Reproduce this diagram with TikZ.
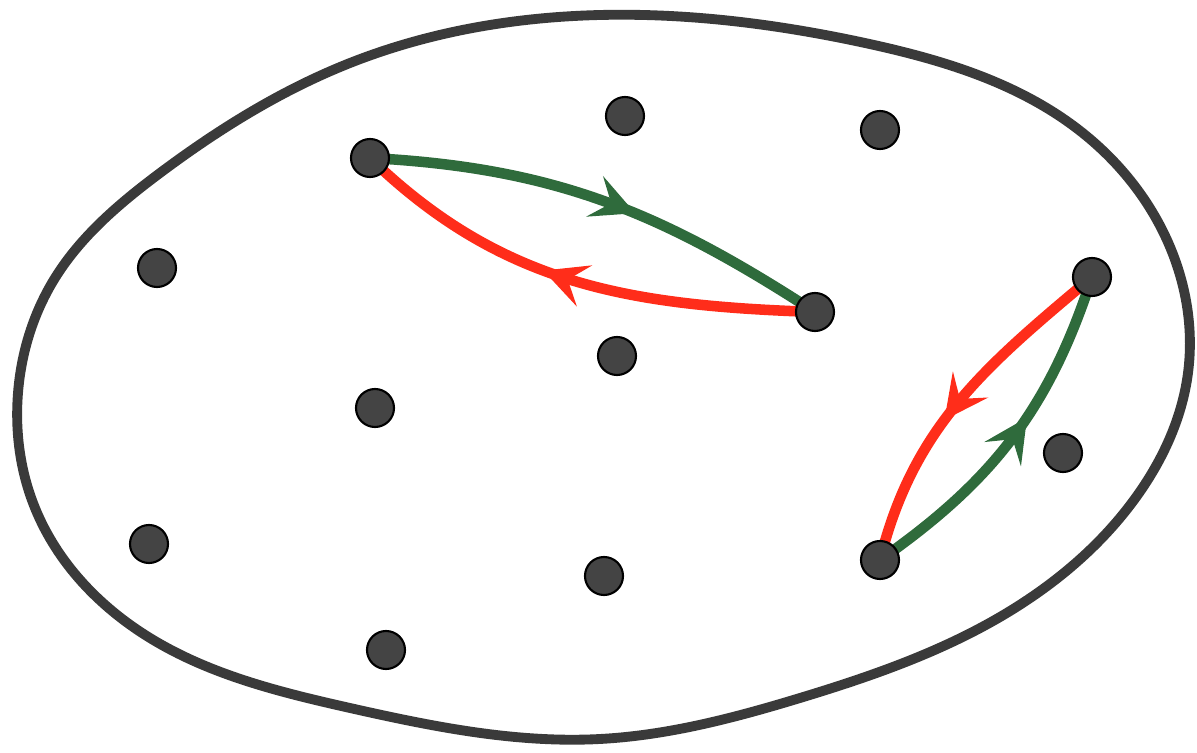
\documentclass[tikz,border=0pt]{standalone}
\usepackage{xcolor}
\usepackage{tikz}
\usetikzlibrary{arrows.meta,decorations.markings,backgrounds,hobby}

\definecolor{rimgray}{HTML}{3A3A3A}
\definecolor{dotgray}{HTML}{444444}
\definecolor{pathgreen}{HTML}{2F6B3C}
\definecolor{pathred}{HTML}{FF2D1A}

\tikzset{
    dot/.style={circle, fill=dotgray, draw=black, line width=0.6pt, minimum size=0.38cm, inner sep=0pt},
    midarrow/.style={postaction={decorate}, decoration={markings,
        mark=at position #1 with {\arrow[line width=0.4pt]{Stealth[length=4.4mm,width=4.4mm,inset=1.8mm]}}}},
    gopath/.style={pathgreen, line width=3pt, midarrow=0.57},
    backpath/.style={pathred, line width=3pt, midarrow=0.57}
}

\begin{document}
\begin{tikzpicture}
    \useasboundingbox (0,0) rectangle (11.97,7.53);
    % the region
    \draw[rimgray, line width=2.8pt, use Hobby shortcut, closed=true]
        (6.00,7.38) .. (8.65,7.10) .. (10.75,6.26) .. (11.67,5.13) .. (11.88,3.80)
        .. (11.34,2.53) .. (10.00,1.36) .. (8.00,0.55) .. (6.00,0.14) .. (3.50,0.45)
        .. (1.50,1.15) .. (0.35,2.45) .. (0.18,3.60) .. (0.55,4.75) .. (1.60,5.80)
        .. (3.50,6.90);
    % points
    \node[dot] (a) at (3.70,5.95) {};
    \node[dot] (b) at (8.15,4.41) {};
    \node[dot] (c) at (10.92,4.76) {};
    \node[dot] (e) at (8.80,1.93) {};
    \node[dot] (p1) at (6.25,6.37) {};
    \node[dot] (p2) at (8.80,6.23) {};
    \node[dot] (p3) at (1.57,4.85) {};
    \node[dot] (p4) at (6.17,3.97) {};
    \node[dot] (p5) at (3.75,3.45) {};
    \node[dot] (p6) at (10.63,3.00) {};
    \node[dot] (p7) at (1.49,2.09) {};
    \node[dot] (p8) at (6.04,1.77) {};
    \node[dot] (p9) at (3.86,1.03) {};
    % there and back
    \begin{scope}[on background layer]
        \draw[gopath] (a.center) to[out=-3, in=147] (b.center);
        \draw[backpath] (b.center) to[out=178, in=-44] (a.center);
        \draw[backpath] (c.center) to[out=-140, in=76] (e.center);
        \draw[gopath] (e.center) to[out=35, in=-108] (c.center);
    \end{scope}
\end{tikzpicture}
\end{document}
